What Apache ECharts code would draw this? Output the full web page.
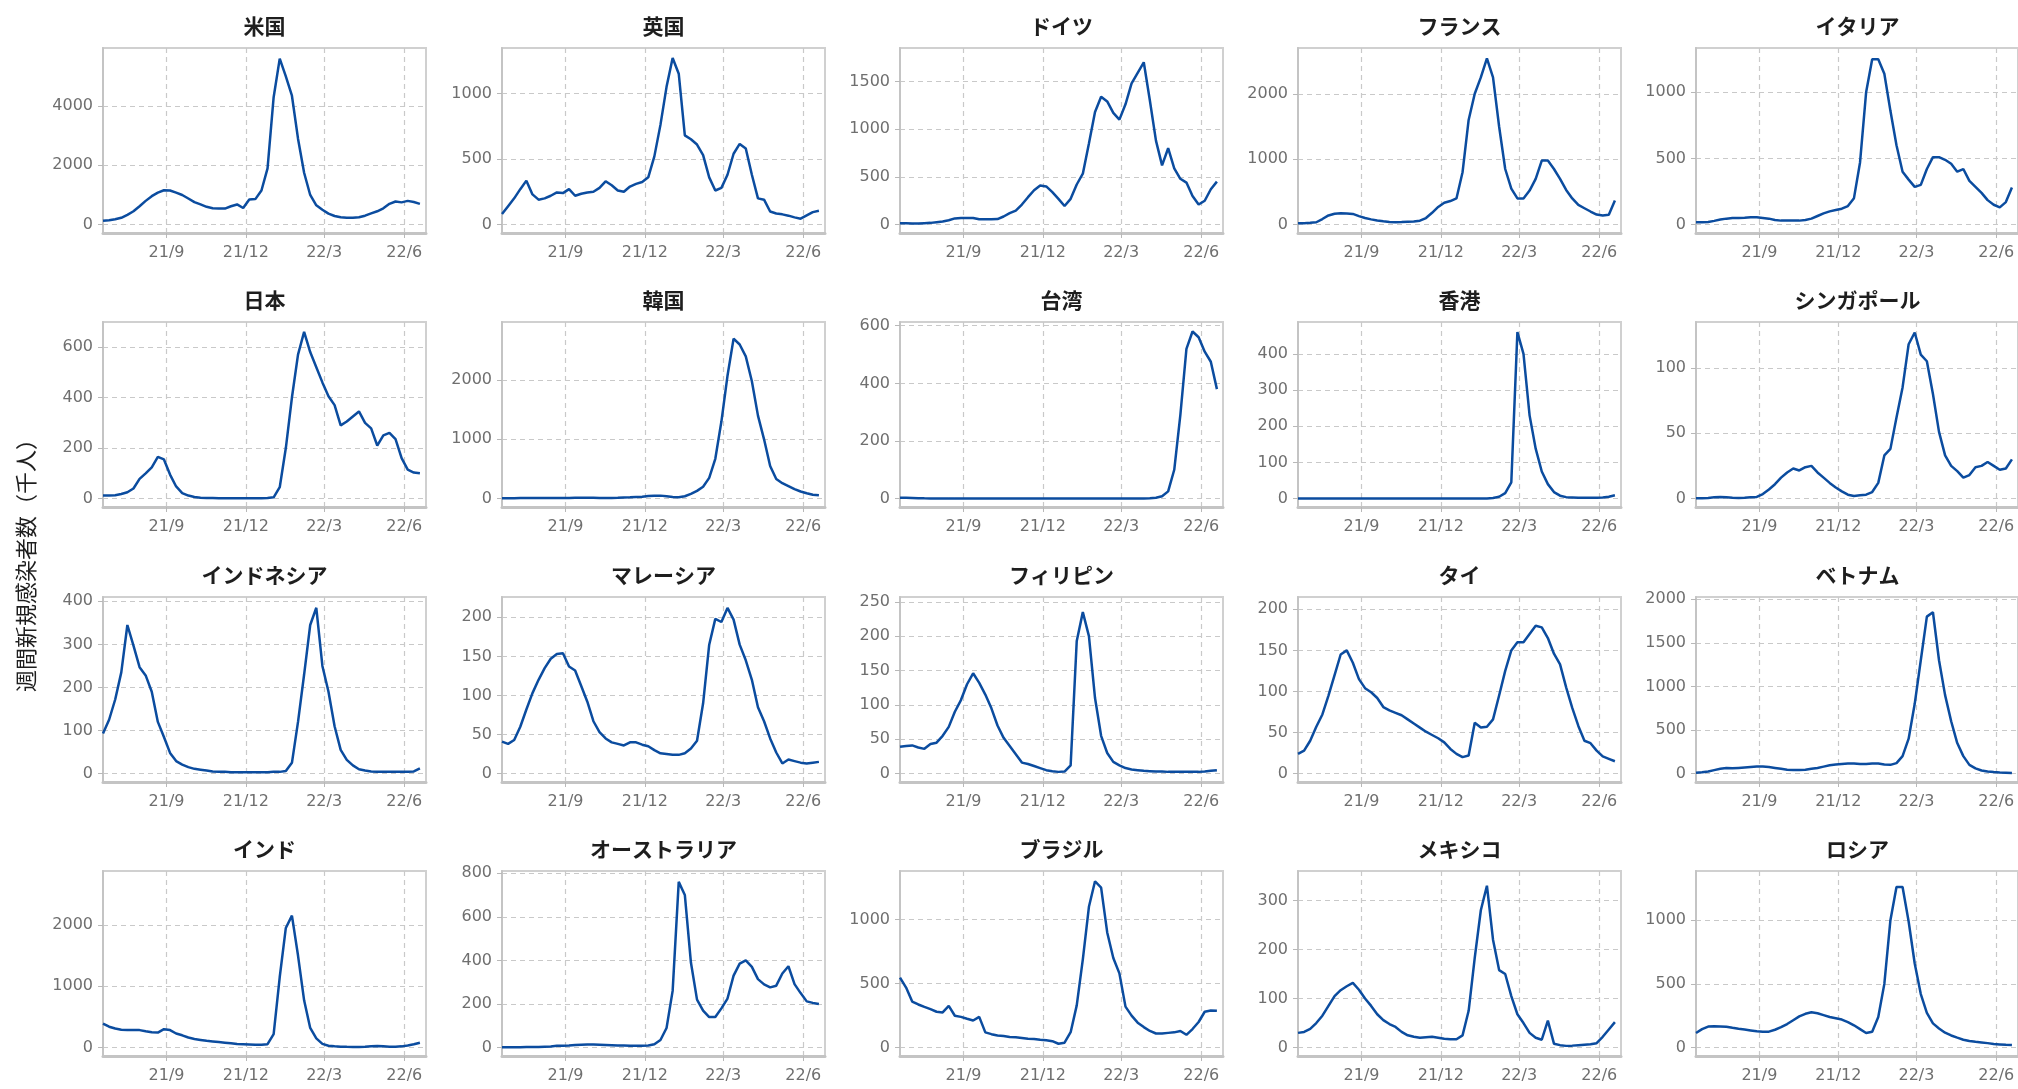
<!DOCTYPE html>
<html>
<head>
<meta charset="utf-8">
<script src="https://cdn.jsdelivr.net/npm/echarts@6/dist/echarts.min.js"></script>
<style>
html, body { margin: 0; padding: 0; background: #fff; }
#chart { width: 2018px; height: 1089px; }
</style>
</head>
<body>
<div id="chart"></div>
<script>
// 国・地域（左上から右へ）
const countries = ["米国", "英国", "ドイツ", "フランス", "イタリア",
  "日本", "韓国", "台湾", "香港", "シンガポール",
  "インドネシア", "マレーシア", "フィリピン", "タイ", "ベトナム",
  "インド", "オーストラリア", "ブラジル", "メキシコ", "ロシア"];

// 週次データ：2021/6/20 から 7 日ごと、53 週
const startDate = "2021-06-20";
const endDate = "2022-06-26";
const weekCount = 53;

// x 軸の目盛
const xTickDates = ["2021-09-01", "2021-12-01", "2022-03-01", "2022-06-01"];
const xTickLabels = ["21/9", "21/12", "22/3", "22/6"];

// 週間新規感染者数（千人）
const us = [130,150,180,230,330,450,620,800,960,1080, 1160,1150,1080,1000,880,760,680,600,550,540, 540,620,680,560,850,860,1150,1900,4300,5600, 5000,4350,2900,1750,1000,650,500,370,290,250, 230,230,250,300,380,450,550,700,780,750, 800,760,700];
const uk = [80,140,200,270,335,230,190,200,220,245, 240,270,220,235,245,250,280,330,300,260, 250,290,310,325,360,520,760,1050,1270,1150, 680,650,610,530,360,260,280,380,540,615, 580,380,200,190,100,85,78,68,55,45, 70,95,105];
const germany = [15,14,12,12,15,18,25,32,45,65, 70,70,70,55,55,55,58,85,120,147, 210,287,360,410,400,340,270,195,270,420, 533,850,1180,1340,1290,1170,1100,1260,1480,1590, 1700,1300,880,620,800,590,480,440,300,210, 250,370,450];
const france = [20,22,28,36,85,140,165,173,170,163, 130,100,80,62,50,40,36,38,42,46, 60,100,180,270,335,360,400,800,1600,2000, 2250,2540,2250,1500,850,550,400,400,520,700, 979,980,850,700,530,400,300,250,200,153, 140,150,370];
const italy = [18,18,20,28,38,45,50,50,52,55, 55,50,45,35,30,30,30,30,35,45, 65,85,100,110,120,140,200,470,1000,1250, 1250,1140,860,600,400,340,285,300,420,510, 510,490,460,400,420,330,285,240,185,150, 130,170,280];
const japan = [12,12,13,18,25,40,78,100,124,165, 155,95,48,22,12,6,3,2,2,1, 1,1,1,1,1,1,1,2,5,45, 200,400,570,660,580,520,460,405,370,290, 305,325,345,300,278,210,250,260,235,160, 115,103,100];
const korea = [4,4,6,8,9,10,10,11,12,12, 12,12,13,14,15,15,12,10,12,15, 20,22,27,32,45,50,50,40,25,22, 40,80,130,200,350,672,1300,2072,2700,2600, 2400,1980,1400,1000,550,330,260,210,160,120, 90,65,56];
const taiwan = [3,2.5,2,1.5,1,0.7,0.5,0.4,0.3,0.2, 0.1,0.1,0.1,0.1,0.1,0.1,0.1,0.1,0.1,0.1, 0.1,0.1,0.1,0.1,0.1,0.1,0.1,0.1,0.2,0.3, 0.3,0.3,0.4,0.4,0.4,0.4,0.4,0.4,0.5,0.5, 0.6,1,3,8,25,100,290,520,580,560, 510,475,380];
const hongkong = [0,0,0,0,0,0,0,0,0,0, 0,0,0,0,0,0,0,0,0,0, 0,0,0,0,0,0,0,0,0,0.1, 0.2,0.5,1.5,5,15,45,460,400,230,138, 75,40,18,8,4,3,2,2,2,2, 3,5,9];
const singapore = [0.2,0.2,0.5,1,1.3,1,0.6,0.5,0.6,1, 1.3,3.5,7,11,16,20,23,21.5,24,25, 20,16,12,8.5,5.5,3,2,2.5,3,5, 12,33,38,62,85,118,127,110,105,80, 51,33,25,21,16,18,24,25,28,25, 22,23,30];
const indonesia = [93,125,172,235,345,297,247,228,190,120, 85,48,29,21,15,11,9,7,5,4, 4,3,3,3,3,3,3,3,4,4, 6,25,120,230,345,385,250,190,110,55, 32,19,10,7,5,4,4,4,4,4, 4,5,12];
const malaysia = [41,38,43,60,82,103,120,135,147,153, 154,137,132,112,92,67,53,45,40,38, 36,40,40,37,35,30,26,25,24,24, 26,32,42,90,165,198,194,212,197,165, 145,120,85,67,45,27,13,18,16,14, 13,14,15];
const philippines = [39,40,41,38,36,43,45,55,68,90, 107,130,146,132,115,95,70,52,40,28, 16,14,11,8,5,3.5,2.5,3,12,193, 235,200,110,55,30,17,12,8,6,5, 4,3.5,3,3,2.5,2.5,2.5,2.5,2.5,2.5, 3,4,5];
const thailand = [24,28,40,57,72,95,120,145,150,135, 115,104,99,92,81,77,74,71,66,61, 56,51,47,43,38,30,24,20,22,62, 56,57,66,95,125,150,160,160,170,180, 178,165,146,133,105,80,58,40,37,28, 21,18,15];
const vietnam = [10,15,25,40,55,65,60,65,70,75, 80,80,75,65,55,45,40,40,45,55, 65,80,95,105,110,115,115,110,110,115, 115,105,100,120,200,400,800,1300,1800,1850, 1300,900,600,350,200,100,60,35,25,18, 12,10,8];
const india = [390,340,310,290,285,285,285,265,250,245, 300,285,230,200,165,140,125,110,100,90, 80,70,60,55,50,45,45,55,220,1150, 1950,2150,1500,770,320,150,60,30,20,15, 12,10,10,12,20,25,20,15,12,20, 35,55,80];
const australia = [1,1,1.5,2,2.5,3,3,4,5,8, 9,10,12,13,14,14,13,12,11,10, 10,9,9,9,10,15,35,90,260,760, 700,390,220,170,140,140,180,225,330,385, 400,370,314,290,276,284,340,373,291,250, 212,205,200];
const brazil = [547,469,360,337,318,300,280,275,326,249, 240,225,212,240,119,105,95,90,83,80, 75,70,68,62,57,50,30,38,120,330, 690,1100,1300,1250,900,700,580,320,250,195, 160,130,110,110,115,119,130,100,145,200, 280,290,287];
const mexico = [30,32,38,50,65,85,105,117,125,132, 118,100,85,68,56,48,42,32,25,22, 20,21,22,20,18,17,17,25,75,183, 280,330,220,158,150,105,68,50,30,20, 16,55,8,5,3.5,4,5,6,7,9, 22,37,52];
const russia = [115,145,165,168,166,163,155,148,142,135, 128,124,125,140,160,185,215,245,265,277, 270,255,240,230,220,200,175,145,115,125, 240,500,1000,1260,1260,990,660,420,273,190, 150,117,95,78,62,52,45,40,35,28, 25,22,20];

const seriesValues = [us, uk, germany, france, italy, japan, korea, taiwan, hongkong, singapore,
  indonesia, malaysia, philippines, thailand, vietnam, india, australia, brazil, mexico, russia];

// y 軸の上限と目盛間隔
const yTop = [5960, 1346, 1850, 2700, 1335, 699, 2980, 613, 488, 135,
  410, 226, 257, 215, 2025, 2878, 810, 1380, 360, 1386];
const yStep = [2000, 500, 500, 1000, 500, 200, 1000, 200, 100, 50,
  100, 50, 50, 50, 500, 1000, 200, 500, 100, 500];

// 日付 → 開始日からの日数
const dayOf = (s) => {
  const p = s.split("-").map(Number);
  const t0 = startDate.split("-").map(Number);
  return Math.round((Date.UTC(p[0], p[1] - 1, p[2]) - Date.UTC(t0[0], t0[1] - 1, t0[2])) / 86400000);
};
const weekDays = [];
for (let i = 0; i < weekCount; i++) weekDays.push(7 * i);
const xTicks = xTickDates.map(dayOf);
const xMax = dayOf(endDate);

const colLeft = [103, 502, 900, 1298, 1696];
const rowTop = [48, 322, 597, 871];
const plotW = 323;
const plotH = 185;

const gridLine = { type: [5, 4], color: "#c9c9c9", width: 1.2 };
const labelStyle = { color: "#6f6f6f", fontSize: 16, fontFamily: "DejaVu Sans" };

let grids = [], xAxes = [], yAxes = [], series = [], texts = [];
countries.forEach((name, k) => {
  const r = Math.floor(k / 5), c = k % 5;
  grids.push({
    left: colLeft[c], top: rowTop[r], width: plotW, height: plotH,
    show: true, borderColor: "#d0d0d0", borderWidth: 2
  });
  let yTicks = [];
  for (let v = 0; v <= yTop[k]; v += yStep[k]) yTicks.push(v);
  xAxes.push({
    gridIndex: k, type: "value", min: 0, max: xMax,
    axisLine: { show: true, onZero: false, lineStyle: { color: "#c4c4c4", width: 3 } },
    axisTick: { show: true, length: 5, customValues: xTicks, lineStyle: { color: "#b8b8b8" } },
    axisLabel: Object.assign({
      customValues: xTicks, margin: 12,
      formatter: (v) => xTickLabels[xTicks.indexOf(v)] || ""
    }, labelStyle),
    splitLine: { show: true, lineStyle: gridLine }
  });
  yAxes.push({
    gridIndex: k, type: "value", min: -yTop[k] / 21, max: yTop[k],
    axisLine: { show: true, lineStyle: { color: "#c4c4c4", width: 2 } },
    axisTick: { show: true, length: 5, customValues: yTicks, lineStyle: { color: "#b8b8b8" } },
    axisLabel: Object.assign({ customValues: yTicks, margin: 10, formatter: (v) => String(v) }, labelStyle),
    splitLine: { show: true, lineStyle: gridLine }
  });
  series.push({
    type: "line", xAxisIndex: k, yAxisIndex: k,
    data: weekDays.map((d, i) => [d, seriesValues[k][i]]),
    showSymbol: false, symbol: "none",
    lineStyle: { color: "#0b4c9f", width: 2.5 },
    itemStyle: { color: "#0b4c9f" }
  });
  texts.push({
    type: "text", x: colLeft[c] + plotW / 2, y: rowTop[r] - 22,
    style: {
      text: name, align: "center", verticalAlign: "middle",
      font: "bold 21px 'Noto Sans CJK JP'", fill: "#1e1e1e"
    }
  });
});

texts.push({
  type: "text", x: 26, y: 560, rotation: Math.PI / 2,
  style: {
    text: "週間新規感染者数（千人）", align: "center", verticalAlign: "middle",
    font: "22px 'Noto Sans CJK JP'", fill: "#1e1e1e"
  }
});

const chart = echarts.init(document.getElementById("chart"));
chart.setOption({
  animation: false,
  backgroundColor: "#ffffff",
  grid: grids,
  xAxis: xAxes,
  yAxis: yAxes,
  series: series,
  graphic: texts
});
</script>
</body>
</html>
